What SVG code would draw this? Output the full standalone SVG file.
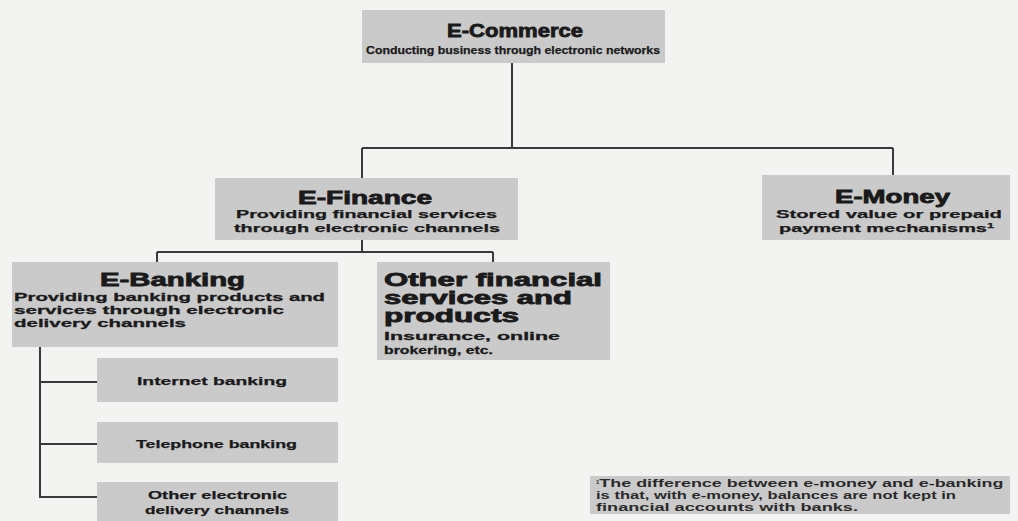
<svg xmlns="http://www.w3.org/2000/svg" width="1018" height="521" viewBox="0 0 1018 521">
<defs>
<style>
.bg{fill:#f3f3f1}
.box{fill:#cacaca}
.ln{stroke:#3a3a3a;stroke-width:2;fill:none}
text{font-family:"Liberation Sans",Arial,sans-serif;font-weight:bold;fill:#1a1a1a;text-anchor:start}
.t{font-size:18px;stroke:#1a1a1a;stroke-width:0.8}
.s{font-size:11px;stroke:#1a1a1a;stroke-width:0.25}
.b{font-size:11.5px;stroke:#1a1a1a;stroke-width:0.3}
.f{font-size:10px;fill:#2a2a2a}
</style>
</defs>
<rect class="bg" x="0" y="0" width="1018" height="521"/>
<g id="connectors">
<path class="ln" d="M512 63 V148 M362 148 H893 M362 148 V178 M893 148 V175"/>
<path class="ln" d="M362 240 V252 M157 252 H493 M157 252 V262 M493 252 V262"/>
<path class="ln" d="M40 347 V497 H97 M40 382 H97 M40 444 H97"/>
</g>
<g id="ecommerce">
<rect class="box" x="362" y="10" width="303" height="53"/>
<text class="t" x="447" y="37" font-size="19" textLength="136" lengthAdjust="spacingAndGlyphs">E-Commerce</text>
<text class="s" x="366" y="54" textLength="294" lengthAdjust="spacingAndGlyphs">Conducting business through electronic networks</text>
</g>
<g id="efinance">
<rect class="box" x="215" y="178" width="303" height="62"/>
<text class="t" x="298" y="204" textLength="134" lengthAdjust="spacingAndGlyphs">E-Finance</text>
<text class="s" x="236" y="218" textLength="261" lengthAdjust="spacingAndGlyphs">Providing financial services</text>
<text class="s" x="234" y="232" textLength="266" lengthAdjust="spacingAndGlyphs">through electronic channels</text>
</g>
<g id="emoney">
<rect class="box" x="762" y="175" width="248" height="65"/>
<text class="t" x="835" y="203" textLength="115" lengthAdjust="spacingAndGlyphs">E-Money</text>
<text class="s" x="776" y="218" textLength="226" lengthAdjust="spacingAndGlyphs">Stored value or prepaid</text>
<text class="s" x="779" y="232" textLength="215" lengthAdjust="spacingAndGlyphs">payment mechanisms<tspan font-size="7" dy="-4">1</tspan></text>
</g>
<g id="ebanking">
<rect class="box" x="12" y="262" width="326" height="85"/>
<text class="t" x="100" y="286" textLength="145" lengthAdjust="spacingAndGlyphs">E-Banking</text>
<text class="b" x="14" y="301" textLength="311" lengthAdjust="spacingAndGlyphs">Providing banking products and</text>
<text class="b" x="14" y="314" textLength="270" lengthAdjust="spacingAndGlyphs">services through electronic</text>
<text class="b" x="14" y="327" textLength="172" lengthAdjust="spacingAndGlyphs">delivery channels</text>
</g>
<g id="otherfinancial">
<rect class="box" x="377" y="262" width="233" height="98"/>
<text class="t" x="384" y="286" font-size="16" textLength="218" lengthAdjust="spacingAndGlyphs">Other financial</text>
<text class="t" x="384" y="304" font-size="16" textLength="188" lengthAdjust="spacingAndGlyphs">services and</text>
<text class="t" x="384" y="322" font-size="16" textLength="135" lengthAdjust="spacingAndGlyphs">products</text>
<text class="b" x="384" y="340" textLength="176" lengthAdjust="spacingAndGlyphs">Insurance, online</text>
<text class="b" x="384" y="354" textLength="109" lengthAdjust="spacingAndGlyphs">brokering, etc.</text>
</g>
<g id="internet">
<rect class="box" x="97" y="358" width="241" height="44"/>
<text class="s" x="137" y="385" textLength="150" lengthAdjust="spacingAndGlyphs">Internet banking</text>
</g>
<g id="telephone">
<rect class="box" x="97" y="422" width="241" height="41"/>
<text class="s" x="136" y="448" textLength="161" lengthAdjust="spacingAndGlyphs">Telephone banking</text>
</g>
<g id="otherelectronic">
<rect class="box" x="97" y="482" width="241" height="39"/>
<text class="s" x="148" y="499" textLength="139" lengthAdjust="spacingAndGlyphs">Other electronic</text>
<text class="s" x="145" y="514" textLength="144" lengthAdjust="spacingAndGlyphs">delivery channels</text>
</g>
<g id="footnote">
<rect class="box" x="590" y="476" width="420" height="38" fill="#d3d3d3"/>
<text class="f" x="596" y="487"><tspan font-size="6" dy="-3">1</tspan><tspan dy="3" textLength="404" lengthAdjust="spacingAndGlyphs">The difference between e-money and e-banking</tspan></text>
<text class="f" x="596" y="499" textLength="360" lengthAdjust="spacingAndGlyphs">is that, with e-money, balances are not kept in</text>
<text class="f" x="596" y="511" textLength="262" lengthAdjust="spacingAndGlyphs">financial accounts with banks.</text>
</g>
</svg>
